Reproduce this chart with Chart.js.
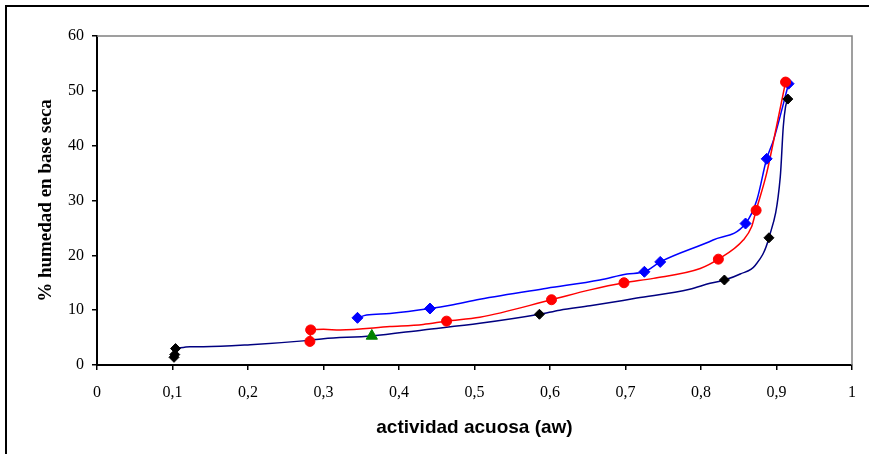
<!DOCTYPE html>
<html>
<head>
<meta charset="utf-8">
<script src="https://cdn.jsdelivr.net/npm/chart.js@4.4.0/dist/chart.umd.min.js"></script>
<style>
  html, body { margin: 0; padding: 0; background: #fff; }
  #wrap { width: 869px; height: 454px; position: relative; }
</style>
</head>
<body>
<div id="wrap"><canvas id="chart"></canvas></div>
<script>
// measured points
const blackAw = [0.102, 0.103, 0.104, 0.586, 0.831, 0.890, 0.915];
const blackHum = [1.4, 1.9, 3.0, 9.25, 15.5, 23.2, 48.5];

const blueAw = [0.345, 0.441, 0.725, 0.746, 0.859, 0.887, 0.916];
const blueHum = [8.6, 10.3, 17.0, 18.8, 25.8, 37.6, 51.3];

const redAw = [0.282, 0.283, 0.463, 0.602, 0.698, 0.823, 0.873, 0.912];
const redHum = [4.3, 6.4, 8.0, 11.9, 15.0, 19.3, 28.2, 51.6];

const greenAw = [0.364];
const greenHum = [5.3];

// fitted curves
const navyCurveAw = [0.104, 0.123, 0.141, 0.203, 0.273, 0.300, 0.364, 0.432, 0.507, 0.586, 0.613, 0.653, 0.715, 0.785, 0.812, 0.831, 0.852, 0.872, 0.890, 0.905, 0.909, 0.912, 0.915];
const navyCurveHum = [3.0, 3.35, 3.35, 3.7, 4.4, 4.8, 5.3, 6.4, 7.6, 9.25, 10.0, 10.8, 12.2, 13.8, 14.9, 15.5, 16.6, 18.2, 23.2, 34.3, 43.5, 47.1, 48.5];

const redCurveAw = [0.282, 0.283, 0.300, 0.322, 0.388, 0.432, 0.463, 0.507, 0.602, 0.653, 0.698, 0.737, 0.799, 0.823, 0.856, 0.867, 0.873, 0.887, 0.900, 0.912];
const redCurveHum = [4.3, 6.4, 6.5, 6.4, 7.0, 7.4, 8.0, 8.7, 11.9, 13.7, 15.0, 15.8, 17.6, 19.3, 22.8, 25.2, 28.2, 35.0, 43.5, 51.6];

const blueCurveAw = [0.345, 0.357, 0.388, 0.441, 0.468, 0.507, 0.596, 0.666, 0.702, 0.725, 0.746, 0.816, 0.859, 0.874, 0.887, 0.896, 0.916];
const blueCurveHum = [8.6, 9.1, 9.4, 10.3, 10.9, 12.0, 14.0, 15.5, 16.6, 17.0, 18.8, 22.8, 25.8, 30.1, 37.6, 41.0, 51.3];

function toPoints(xs, ys) {
    return xs.map((x, i) => ({ x: x, y: ys[i] }));
}

function curve(xs, ys, color) {
    return {
        data: toPoints(xs, ys),
        showLine: true,
        borderColor: color,
        borderWidth: 1.5,
        pointRadius: 0,
        cubicInterpolationMode: 'monotone',
        fill: false
    };
}

function marks(xs, ys, color, style, r) {
    return {
        data: toPoints(xs, ys),
        showLine: false,
        pointStyle: style,
        pointRadius: r,
        pointBackgroundColor: color,
        pointBorderColor: color,
        pointBorderWidth: 1
    };
}

// outer frame and the grey top/right plot edges
const framePlugin = {
    id: 'frame',
    afterDraw(chart) {
        const ctx = chart.ctx;
        const a = chart.chartArea;
        ctx.save();
        ctx.strokeStyle = '#808080';
        ctx.lineWidth = 1.5;
        ctx.beginPath();
        ctx.moveTo(a.left, a.top);
        ctx.lineTo(a.right, a.top);
        ctx.lineTo(a.right, a.bottom);
        ctx.stroke();
        ctx.strokeStyle = '#000';
        ctx.lineWidth = 2;
        ctx.strokeRect(6, 6, 2000, 2000);
        ctx.restore();
    }
};

new Chart(document.getElementById('chart'), {
    type: 'scatter',
    data: {
        datasets: [
            marks(greenAw, greenHum, '#008000', 'triangle', 6.5),
            marks(blackAw, blackHum, '#000000', 'rectRot', 5),
            marks(redAw, redHum, '#ff0000', 'circle', 5),
            marks(blueAw, blueHum, '#0000ff', 'rectRot', 5.5),
            curve(redCurveAw, redCurveHum, '#ff0000'),
            curve(blueCurveAw, blueCurveHum, '#0000ff'),
            curve(navyCurveAw, navyCurveHum, '#000080')
        ]
    },
    options: {
        responsive: true,
        maintainAspectRatio: false,
        animation: false,
        layout: { padding: { left: 0, top: 36, right: 17, bottom: 0 } },
        plugins: {
            legend: { display: false },
            tooltip: { enabled: false }
        },
        scales: {
            x: {
                type: 'linear',
                min: 0,
                max: 1,
                afterFit: (s) => { s.height = 89; },
                ticks: {
                    stepSize: 0.1,
                    padding: 13,
                    color: '#000',
                    font: { family: 'Liberation Serif', size: 16 },
                    callback: (v) => String(Number(v.toFixed(1))).replace('.', ',')
                },
                grid: { drawOnChartArea: false, tickLength: 5, color: '#000', lineWidth: 1.5 },
                border: { color: '#000', width: 2 },
                title: {
                    display: true,
                    text: 'actividad acuosa (aw)',
                    color: '#000',
                    font: { family: 'Liberation Sans', size: 19, weight: 'bold' },
                    padding: { top: 15, bottom: 15 }
                }
            },
            y: {
                min: 0,
                max: 60,
                afterFit: (s) => { s.width = 97; },
                ticks: {
                    stepSize: 10,
                    padding: 8,
                    color: '#000',
                    font: { family: 'Liberation Serif', size: 16 }
                },
                grid: { drawOnChartArea: false, tickLength: 5, color: '#000', lineWidth: 1.5 },
                border: { color: '#000', width: 2 },
                title: {
                    display: true,
                    text: '% humedad en base seca',
                    color: '#000',
                    font: { family: 'Liberation Serif', size: 19, weight: 'bold' },
                    padding: { top: 35, bottom: 35 }
                }
            }
        }
    },
    plugins: [framePlugin]
});
</script>
</body>
</html>
